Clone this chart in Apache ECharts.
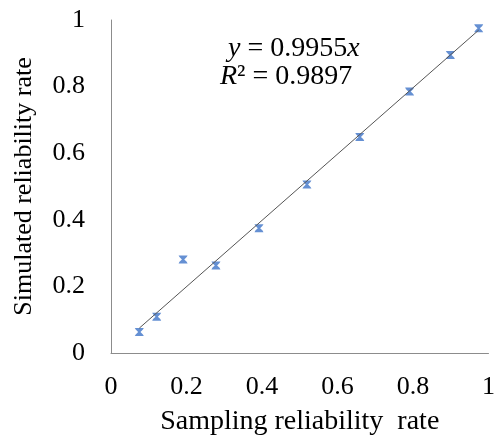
<!DOCTYPE html>
<html>
<head>
<meta charset="utf-8">
<script src="https://cdn.jsdelivr.net/npm/echarts@6/dist/echarts.min.js"></script>
<style>html,body{margin:0;padding:0;background:#fff}#c{width:498px;height:441px}</style>
</head>
<body>
<div id="c"></div>
<script>
var samplingRate = [0.075, 0.121, 0.191, 0.278, 0.392, 0.519, 0.659, 0.791, 0.899, 0.974];
var simulatedRate = [0.063, 0.109, 0.281, 0.263, 0.375, 0.506, 0.649, 0.785, 0.895, 0.975];
var trendX = [0.075, 0.974];
var trendY = [0.0747, 0.9696];
var xTicks = [0, 0.2, 0.4, 0.6, 0.8, 1];
var yTicks = [0, 0.2, 0.4, 0.6, 0.8, 1];

var pts = samplingRate.map(function (x, i) { return [x, simulatedRate[i]]; });
var trend = trendX.map(function (x, i) { return [x, trendY[i]]; });
var font = '"Liberation Serif", "Times New Roman", serif';

var chart = echarts.init(document.getElementById('c'), null, {renderer: 'canvas'});
chart.setOption({
  animation: false,
  backgroundColor: '#ffffff',
  grid: {left: 111, right: 8, top: 20, bottom: 85, containLabel: false},
  xAxis: {
    type: 'value', min: 0, max: 1, interval: 0.2,
    axisLine: {show: true, lineStyle: {color: '#8c8c8c', width: 1}},
    axisTick: {show: false},
    splitLine: {show: false},
    axisLabel: {
      color: '#000', fontFamily: font, fontSize: 26, margin: 21,
      formatter: function (v) { return xTicks.indexOf(+v.toFixed(1)) >= 0 ? String(+v.toFixed(1)) : ''; }
    },
    name: 'Sampling reliability  rate', nameLocation: 'middle', nameGap: 55,
    nameTextStyle: {color: '#000', fontFamily: font, fontSize: 28}
  },
  yAxis: {
    type: 'value', min: 0, max: 1, interval: 0.2,
    axisLine: {show: true, lineStyle: {color: '#8c8c8c', width: 1}},
    axisTick: {show: false},
    splitLine: {show: false},
    axisLabel: {
      color: '#000', fontFamily: font, fontSize: 26, margin: 26,
      formatter: function (v) { return yTicks.indexOf(+v.toFixed(1)) >= 0 ? String(+v.toFixed(1)) : ''; }
    },
    name: 'Simulated reliability rate', nameLocation: 'middle', nameGap: 74,
    nameTextStyle: {color: '#000', fontFamily: font, fontSize: 26}
  },
  series: [
    {
      type: 'scatter', data: pts,
      symbol: 'path://M0,0 L10,0 L9,2 L6.3,5 L9,8 L10,10 L0,10 L1,8 L3.7,5 L1,2 Z',
      symbolSize: [9, 8],
      itemStyle: {color: '#3f74c8'}, z: 2
    },
    {
      type: 'line', data: trend, symbol: 'none', silent: true,
      lineStyle: {color: '#555555', width: 1}, z: 3
    }
  ],
  graphic: [
    {
      type: 'text', left: 228, top: 35,
      style: {
        text: '{i|y} = 0.9955{i|x}',
        rich: {i: {fontStyle: 'italic', fontFamily: font, fontSize: 28, fill: '#000'}},
        font: '28px ' + font, fill: '#000'
      }
    },
    {
      type: 'text', left: 220, top: 63,
      style: {
        text: '{i|R}² = 0.9897',
        rich: {i: {fontStyle: 'italic', fontFamily: font, fontSize: 28, fill: '#000'}},
        font: '28px ' + font, fill: '#000'
      }
    }
  ]
});
</script>
</body>
</html>
